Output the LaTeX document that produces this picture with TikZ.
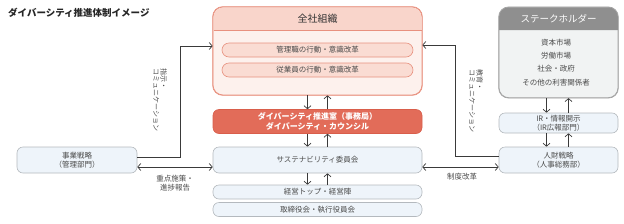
\documentclass[tikz,border=0pt]{standalone}
\usepackage{fontspec}
\setmainfont{Noto Sans CJK JP}
\usetikzlibrary{arrows.meta}
\definecolor{pinkline}{HTML}{E8917F}
\definecolor{pinkhead}{HTML}{F9D5CB}
\definecolor{pinkbody}{HTML}{FDF1ED}
\definecolor{pinkpill}{HTML}{FADCD3}
\definecolor{redfill}{HTML}{E26C59}
\definecolor{redline}{HTML}{D95E4B}
\definecolor{bluefill}{HTML}{EEF4FA}
\definecolor{greyline}{HTML}{B4B9BE}
\definecolor{stakehead}{HTML}{8F8F8F}
\definecolor{stakebody}{HTML}{F1F3F3}
\definecolor{stakeline}{HTML}{A3A3A3}
\definecolor{txt}{HTML}{4A4A4A}
\definecolor{arrowc}{HTML}{3A3A3A}
\begin{document}
\begin{tikzpicture}[x=1pt,y=-1pt,
  font=\fontsize{7.5}{9}\selectfont,
  box/.style={draw=greyline, fill=bluefill, rounded corners=6pt, line width=0.6pt,
    inner sep=0pt, align=center, text=txt},
  pill/.style={draw=pinkline, fill=pinkpill, rounded corners=7pt, line width=0.6pt,
    inner sep=0pt, align=center, text=txt, minimum width=191pt, minimum height=14pt},
  arr/.style={-{Straight Barb[length=3pt,width=7pt]}, line width=0.7pt, draw=arrowc},
  darr/.style={{Straight Barb[length=3pt,width=7pt]}-{Straight Barb[length=3pt,width=7pt]}, line width=0.7pt, draw=arrowc},
  lbl/.style={text=txt, inner sep=0pt, align=center}]
\useasboundingbox (0,0) rectangle (624,223);

% title
\node[anchor=west, inner sep=0pt, font=\fontsize{9.5}{11}\selectfont\bfseries, text=black!85] (title) at (8,13) {ダイバーシティ推進体制イメージ};

% whole company box
\node[draw=pinkline, fill=pinkbody, rounded corners=10pt, line width=0.7pt,
  minimum width=209pt, minimum height=88pt, inner sep=0pt] (zensha) at (317.5,51) {};
\fill[pinkhead] (213.5,30) [rounded corners=10pt]-- (213.5,7.5) -- (421.5,7.5) [sharp corners]-- (421.5,30) -- cycle;
\draw[pinkline, line width=0.7pt] (213.5,30) -- (421.5,30);
\draw[pinkline, line width=0.7pt, rounded corners=10pt] (zensha.south west) rectangle (zensha.north east);
\node[inner sep=0pt, font=\fontsize{10}{12}\selectfont, text=black!80] (zhead) at (317.5,18.5) {全社組織};
\node[pill] (kanri) at (317.5,50) {管理職の行動・意識改革};
\node[pill] (jugyo) at (317.5,70) {従業員の行動・意識改革};

% suishin
\node[draw=redline, fill=redfill, rounded corners=6pt, line width=0.6pt, inner sep=0pt,
  minimum width=209pt, minimum height=24pt, align=center, text=white,
  font=\fontsize{8}{10}\selectfont\bfseries] (suishin) at (317.5,121.5)
  {ダイバーシティ推進室（事務局）\\ダイバーシティ・カウンシル};

\node[box, minimum width=209pt, minimum height=26pt] (sustain) at (317.5,160) {サステナビリティ委員会};
\node[box, minimum width=209pt, minimum height=14pt] (keiei) at (317.5,192) {経営トップ・経営陣};
\node[box, minimum width=209pt, minimum height=14pt] (torishimari) at (317.5,209.5) {取締役会・執行役員会};

% left box
\node[box, minimum width=120pt, minimum height=26pt] (jigyo) at (77,160) {事業戦略\\（管理部門）};

% stakeholder
\node[draw=stakeline, fill=stakebody, rounded corners=10pt, line width=0.7pt,
  minimum width=119pt, minimum height=90.5pt, inner sep=0pt] (stake) at (558.5,52.5) {};
\fill[stakehead] (499,30) [rounded corners=10pt]-- (499,7.25) -- (618,7.25) [sharp corners]-- (618,30) -- cycle;
\draw[stakeline, line width=0.7pt, rounded corners=10pt] (stake.south west) rectangle (stake.north east);
\node[inner sep=0pt, font=\fontsize{9.5}{11}\selectfont, text=white] (shead) at (558.5,18.5) {ステークホルダー};
\node[lbl] (s1) at (556,43) {資本市場};
\node[lbl] (s2) at (556,56) {労働市場};
\node[lbl] (s3) at (556,69) {社会・政府};
\node[lbl] (s4) at (556,82.5) {その他の利害関係者};

\node[box, minimum width=119pt, minimum height=20pt] (ir) at (558.5,123) {IR・情報開示\\（IR広報部門）};
\node[box, minimum width=119pt, minimum height=26pt] (jinzai) at (558.5,160) {人財戦略\\（人事総務部）};

% vertical arrows centre column
\draw[arr] ([xshift=-10pt]zensha.south) -- ([xshift=-10pt]suishin.north);
\draw[arr] ([xshift=10pt]suishin.north) -- ([xshift=10pt]zensha.south);
\draw[arr] ([xshift=-10pt]suishin.south) -- ([xshift=-10pt]sustain.north);
\draw[arr] ([xshift=10pt]sustain.north) -- ([xshift=10pt]suishin.south);
\draw[arr] ([xshift=-10pt]sustain.south) -- ([xshift=-10pt]keiei.north);
\draw[arr] ([xshift=10pt]keiei.north) -- ([xshift=10pt]sustain.south);

% vertical arrows right column
\draw[arr] ([xshift=-12pt]stake.south) -- ([xshift=-12pt]ir.north);
\draw[arr] ([xshift=10pt]ir.north) -- ([xshift=10pt]stake.south);
\draw[arr] ([xshift=-12pt]ir.south) -- ([xshift=-12pt]jinzai.north);
\draw[arr] ([xshift=10pt]jinzai.north) -- ([xshift=10pt]ir.south);

% horizontal double arrows
\draw[darr] ([yshift=-7pt]jigyo.east) -- ([yshift=-7pt]sustain.west);
\draw[darr] ([yshift=-7pt]sustain.east) -- ([yshift=-7pt]jinzai.west);
\node[lbl] (lab1) at (175,183) {重点施策・\\進捗報告};
\node[lbl] (lab2) at (462,177) {制度改革};

% elbow connectors
\coordinate (lk) at (180,46);
\coordinate (rk) at (455,45);
\draw[arr] ([yshift=3pt]jigyo.east) -| (lk) -- (lk -| zensha.west);
\draw[arr] ([yshift=4pt]jinzai.west) -| (rk) -- (rk -| zensha.east);
\node[lbl, rotate=-90, align=left, font=\fontsize{7}{7.5}\selectfont] (lab3) at (160,100) {指示・\\コミュニケーション};
\node[lbl, rotate=-90, align=left, font=\fontsize{7}{7.5}\selectfont] (lab4) at (476,101) {教育・\\コミュニケーション};
\end{tikzpicture}
\end{document}
